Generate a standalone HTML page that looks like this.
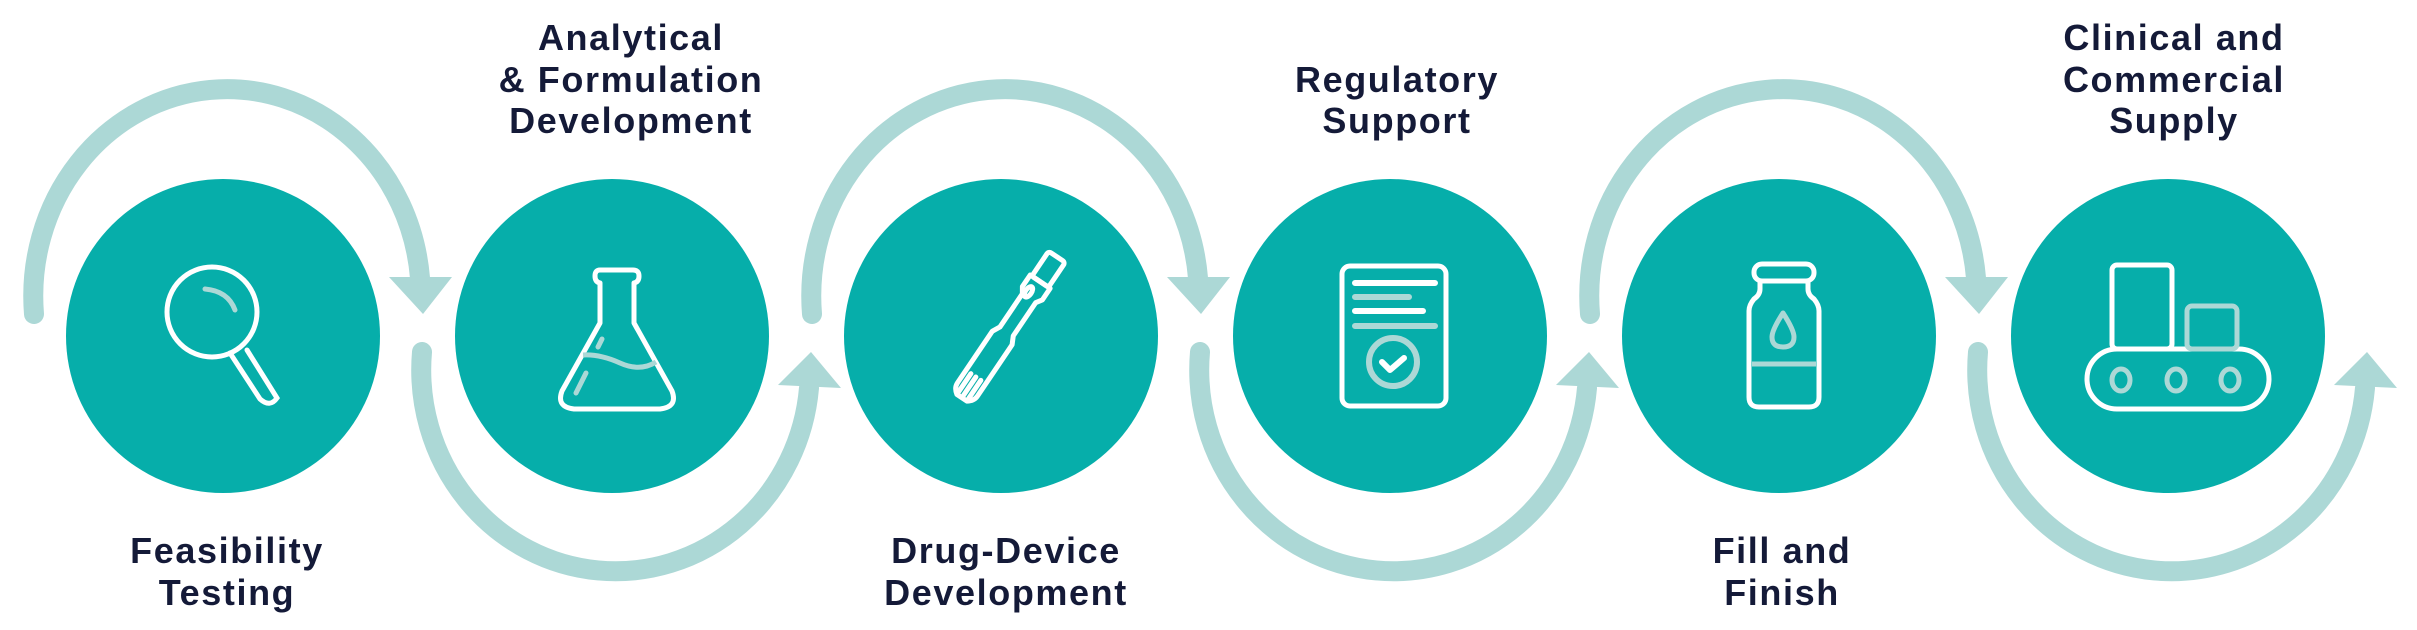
<!DOCTYPE html>
<html><head><meta charset="utf-8"><style>
html,body{margin:0;padding:0;background:#fff;}
svg{display:block}
text{font-family:"Liberation Sans",sans-serif;font-weight:bold;font-size:36px;letter-spacing:1.6px;fill:#141a38;text-anchor:middle}
</style></head><body>
<svg width="2417" height="630" viewBox="0 0 2417 630" xmlns="http://www.w3.org/2000/svg">
<defs>
<g id="top">
 <path d="M -189 314 A 192 205 0 0 1 197 278" fill="none" stroke="#acd8d6" stroke-width="20" stroke-linecap="round"/>
 <polygon points="166,277 229,277 200,314" fill="#acd8d6"/>
</g>
<g id="bot">
 <path d="M -190 352 A 193 200 0 0 0 197 388" fill="none" stroke="#acd8d6" stroke-width="20" stroke-linecap="round"/>
 <polygon points="166,385 229,388 199,352" fill="#acd8d6"/>
</g>
</defs>
<use href="#top" x="223"/>
<use href="#bot" x="612"/>
<use href="#top" x="1001"/>
<use href="#bot" x="1390"/>
<use href="#top" x="1779"/>
<use href="#bot" x="2168"/>
<g fill="#06aeaa">
<circle cx="223" cy="336" r="157"/>
<circle cx="612" cy="336" r="157"/>
<circle cx="1001" cy="336" r="157"/>
<circle cx="1390" cy="336" r="157"/>
<circle cx="1779" cy="336" r="157"/>
<circle cx="2168" cy="336" r="157"/>
</g>
<g fill="none" stroke="#fff" stroke-width="5" stroke-linecap="round">
 <ellipse cx="212" cy="312" rx="45" ry="45"/>
 <path d="M230 353 L260 399 Q270 408 277 398 L247 350"/>
 <path d="M205 289 Q228 291 235 310" stroke="#acd8d6"/>
</g>
<g fill="none" stroke="#fff" stroke-width="5" stroke-linejoin="round">
 <path d="M600 270 h33 q6 0 6 6 q0 6 -5 7 v40 l38 68 q6 16 -12 18 h-86 q-18 -2 -12 -18 l38 -68 v-40 q-5 -1 -5 -7 q0 -6 5 -6z"/>
 <path d="M583 355 Q600 354 620 363 Q640 372 656 362" stroke="#acd8d6"/>
 <path d="M586 373 L576 393 M602 339 L598 347" stroke="#acd8d6" stroke-linecap="round"/>
</g>
<g fill="none" stroke="#fff" stroke-width="5" stroke-linejoin="round" transform="rotate(34 1003 335)">
 <rect x="994" y="240" width="20" height="30" rx="3"/>
 <path d="M992 270 h24 v14 l-4 6 v40 l4 8 v62 q0 6 -6 10 h-12 q-6 -4 -6 -10 v-62 l4 -8 v-40 l-4 -6z"/>
 <ellipse cx="1000" cy="285" rx="3" ry="6"/>
 <path d="M998 385 v22 M1004 385 v22 M1010 385 v22" stroke-linecap="round"/>
</g>
<g>
 <rect x="1342" y="266" width="104" height="140" rx="8" fill="none" stroke="#fff" stroke-width="5"/>
 <path d="M1355 283 h80 M1355 311 h68" stroke="#fff" stroke-width="6" stroke-linecap="round"/>
 <path d="M1355 297 h54 M1355 326 h80" stroke="#acd8d6" stroke-width="6" stroke-linecap="round"/>
 <circle cx="1393" cy="362" r="24" fill="none" stroke="#acd8d6" stroke-width="6"/>
 <path d="M1382 362 l8 8 l14 -12" fill="none" stroke="#fff" stroke-width="6" stroke-linecap="round" stroke-linejoin="round"/>
</g>
<g fill="none" stroke="#fff" stroke-width="5" stroke-linejoin="round">
 <rect x="1754" y="264" width="60" height="17" rx="8"/>
 <path d="M1760 281 v8 q0 6 -6 10 q-5 6 -5 12 v86 q0 10 10 10 h50 q10 0 10 -10 v-86 q0 -6 -5 -12 q-6 -4 -6 -10 v-8"/>
 <path d="M1752 364 h64" stroke="#acd8d6"/>
 <path d="M1783 313 q-11 17 -11 24 q0 10 11 10 q11 0 11 -10 q0 -7 -11 -24z" stroke="#acd8d6"/>
</g>
<g fill="none" stroke="#fff" stroke-width="5" stroke-linejoin="round">
 <rect x="2112" y="265" width="60" height="84" rx="5"/>
 <rect x="2087" y="349" width="182" height="60" rx="30"/>
 <rect x="2187" y="306" width="50" height="43" rx="5" stroke="#acd8d6"/>
 <g stroke="#acd8d6"><ellipse cx="2121" cy="380" rx="9" ry="11"/><ellipse cx="2176" cy="380" rx="9" ry="11"/><ellipse cx="2230" cy="380" rx="9" ry="11"/></g>
</g>
<text x="227" y="563">Feasibility</text>
<text x="227" y="605">Testing</text>
<text x="631" y="50">Analytical</text>
<text x="631" y="92">&amp; Formulation</text>
<text x="631" y="133">Development</text>
<text x="1006" y="563">Drug-Device</text>
<text x="1006" y="605">Development</text>
<text x="1397" y="92">Regulatory</text>
<text x="1397" y="133">Support</text>
<text x="1782" y="563">Fill and</text>
<text x="1782" y="605">Finish</text>
<text x="2174" y="50">Clinical and</text>
<text x="2174" y="92">Commercial</text>
<text x="2174" y="133">Supply</text>
</svg>
</body></html>
